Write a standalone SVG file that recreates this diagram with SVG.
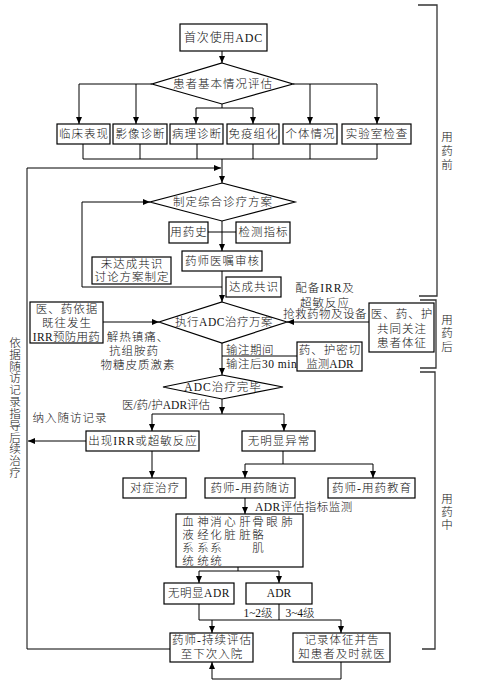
<svg xmlns="http://www.w3.org/2000/svg" width="480" height="686" viewBox="0 0 480 686">
<style>
.b{fill:#fff;stroke:#000;stroke-width:1.2}
.l{fill:none;stroke:#000;stroke-width:1}
.a{fill:none;stroke:#000;stroke-width:1;marker-end:url(#ar)}
.k{fill:none;stroke:#333;stroke-width:1.3}
text{font-family:"Liberation Serif","Noto Sans CJK SC",serif;font-size:11.5px;font-weight:300;fill:#111}
.t{text-anchor:middle;letter-spacing:1px}
.s{text-anchor:start;letter-spacing:0.5px}
.c{text-anchor:middle}
</style>
<defs>
<marker id="ar" viewBox="0 0 8 8" refX="8" refY="4" markerWidth="7" markerHeight="7" markerUnits="userSpaceOnUse" orient="auto">
<path d="M0,0.6 L8,4 L0,7.4 Z" fill="#000"/>
</marker>
</defs>

<g id="connectors">
<path class="a" d="M222,51 V63"/>
<path class="a" d="M152,84 H79 V124"/>
<path class="a" d="M136,84 V124"/>
<path class="a" d="M293,84 H377 V124"/>
<path class="a" d="M310,84 V124"/>
<path class="l" d="M222,104 V108 M196,108 H253"/>
<path class="a" d="M196,108 V124"/>
<path class="a" d="M253,108 V124"/>
<path class="l" d="M83,144 V159 M140,144 V159 M197,144 V159 M253,144 V159 M310,144 V159 M377,144 V159 M83,159 H377"/>
<path class="a" d="M222,159 V183"/>
<path class="a" d="M170,649 H27 V168 H221"/>
<path class="a" d="M222,287 H82 V202 H150"/>
<path class="l" d="M208,232 H236"/>
<path class="a" d="M222,221 V251"/>
<path class="a" d="M222,271 V302"/>
<path class="a" d="M103,322 H159"/>
<path class="a" d="M369,322 H287"/>
<path class="a" d="M222,343 V375"/>
<path class="l" d="M222,356 H297"/>
<path class="a" d="M222,399 V414"/>
<path class="l" d="M152,414 H284"/>
<path class="a" d="M152,414 V431"/>
<path class="a" d="M284,414 V431"/>
<path class="a" d="M86,441 H28"/>
<path class="a" d="M152,451 V478"/>
<path class="l" d="M283,451 V464 M245,464 H373"/>
<path class="a" d="M245,464 V478"/>
<path class="a" d="M373,464 V478"/>
<path class="a" d="M245,498 V514"/>
<path class="l" d="M238,567 V571 M199,571 H279"/>
<path class="a" d="M199,571 V583"/>
<path class="a" d="M279,571 V583"/>
<path class="l" d="M199,604 V620 H341 M279,604 V620"/>
<path class="a" d="M212,620 V633"/>
<path class="a" d="M341,620 V633"/>
<path class="a" d="M341,662 V679 H212 V662"/>
</g>

<g id="brackets">
<path class="k" d="M418,5 H437 V296 H419"/>
<path class="k" d="M420,300 H436 V368 H420"/>
<path class="k" d="M420,372 H435 V649 H422"/>
<text class="c" x="447" y="141">用</text>
<text class="c" x="447" y="155">药</text>
<text class="c" x="447" y="169">前</text>
<text class="c" x="447" y="324">用</text>
<text class="c" x="447" y="337">药</text>
<text class="c" x="447" y="351">后</text>
<text class="c" x="447" y="503">用</text>
<text class="c" x="447" y="516">药</text>
<text class="c" x="447" y="529">中</text>
</g>

<g id="label-left">
<text class="c" x="15" y="347">依</text>
<text class="c" x="15" y="359">据</text>
<text class="c" x="15" y="371">随</text>
<text class="c" x="15" y="382">访</text>
<text class="c" x="15" y="394">记</text>
<text class="c" x="15" y="406">录</text>
<text class="c" x="15" y="418">指</text>
<text class="c" x="15" y="430">导</text>
<text class="c" x="15" y="442">后</text>
<text class="c" x="15" y="453">续</text>
<text class="c" x="15" y="465">治</text>
<text class="c" x="15" y="477">疗</text>
</g>

<g id="edge-labels">
<text class="t" x="325" y="292">配备IRR及</text>
<text class="t" x="325" y="307">超敏反应</text>
<text class="c" x="325" y="318" style="letter-spacing:0.5px">抢救药物及设备</text>
<text class="t" x="138" y="341">解热镇痛、</text>
<text class="t" x="134" y="355">抗组胺药</text>
<text class="t" x="138" y="369">物糖皮质激素</text>
<text class="s" x="226" y="354">输注期间</text>
<text class="s" x="226" y="368">输注后30 min</text>
<text class="c" x="166" y="409">医/药/护ADR评估</text>
<text class="t" x="70" y="422">纳入随访记录</text>
<text class="s" x="255" y="511">ADR评估指标监测</text>
<text class="c" x="258" y="617">1~2级</text>
<text class="c" x="300" y="617">3~4级</text>
</g>

<g id="n-start"><rect class="b" x="180" y="24" width="87" height="27"/><text class="c" x="223.5" y="42" style="font-size:12px;letter-spacing:0.8px">首次使用ADC</text></g>
<g id="n-assess"><polygon class="b" points="222,63 293,84 222,104 152,84"/><text class="t" x="223" y="88">患者基本情况评估</text></g>
<g id="n-clinical"><rect class="b" x="57" y="124" width="53" height="20"/><text class="t" x="84" y="138">临床表现</text></g>
<g id="n-imaging"><rect class="b" x="113" y="124" width="54" height="20"/><text class="t" x="140.5" y="138">影像诊断</text></g>
<g id="n-pathology"><rect class="b" x="170" y="124" width="53" height="20"/><text class="t" x="197" y="138">病理诊断</text></g>
<g id="n-ihc"><rect class="b" x="227" y="124" width="52" height="20"/><text class="t" x="253.5" y="138">免疫组化</text></g>
<g id="n-individual"><rect class="b" x="283" y="124" width="54" height="20"/><text class="t" x="310.5" y="138">个体情况</text></g>
<g id="n-lab"><rect class="b" x="342" y="124" width="69" height="20"/><text class="t" x="377" y="138">实验室检查</text></g>
<g id="n-plan"><polygon class="b" points="222,183 295,202 222,221 150,202"/><text class="t" x="223" y="206">制定综合诊疗方案</text></g>
<g id="n-history"><rect class="b" x="169" y="222" width="39" height="21"/><text class="t" x="189" y="236">用药史</text></g>
<g id="n-indicators"><rect class="b" x="236" y="222" width="54" height="21"/><text class="t" x="263.5" y="236">检测指标</text></g>
<g id="n-review"><rect class="b" x="182" y="251" width="80" height="20"/><text class="t" x="222.5" y="265">药师医嘱审核</text></g>
<g id="n-noconsensus"><rect class="b" x="92" y="257" width="79" height="27"/><text class="t" x="132" y="268">未达成共识</text><text class="t" x="132" y="281">讨论方案制定</text></g>
<g id="n-consensus"><rect class="b" x="226" y="277" width="55" height="20"/><text class="t" x="254" y="291">达成共识</text></g>
<g id="n-execute"><polygon class="b" points="222,302 287,322 222,343 159,322"/><text class="c" x="224" y="326" style="letter-spacing:0.5px">执行ADC治疗万案</text></g>
<g id="n-prevent"><rect class="b" x="30" y="302" width="73" height="41"/><text class="t" x="67" y="313">医、药依据</text><text class="t" x="67" y="327">既往发生</text><text class="c" x="66.5" y="341" style="letter-spacing:0.3px">IRR预防用药</text></g>
<g id="n-watch"><rect class="b" x="369" y="303" width="65" height="49"/><text class="t" x="402" y="318">医、药、护</text><text class="t" x="402" y="333">共同关注</text><text class="t" x="402" y="347">患者体征</text></g>
<g id="n-monitor"><rect class="b" x="297" y="342" width="65" height="29"/><text class="t" x="330" y="354">药、护密切</text><text class="c" x="330" y="368">监测ADR</text></g>
<g id="n-done"><polygon class="b" points="222,375 283,387 222,399 163,387"/><text class="t" x="223" y="391">ADC治疗完毕</text></g>
<g id="n-irr"><rect class="b" x="86" y="431" width="113" height="20"/><text class="t" x="143" y="445">出现IRR或超敏反应</text></g>
<g id="n-normal"><rect class="b" x="242" y="431" width="73" height="20"/><text class="t" x="279" y="445">无明显异常</text></g>
<g id="n-symptom"><rect class="b" x="123" y="478" width="63" height="20"/><text class="t" x="155" y="492">对症治疗</text></g>
<g id="n-followup"><rect class="b" x="205" y="478" width="90" height="20"/><text class="t" x="250.5" y="492">药师-用药随访</text></g>
<g id="n-education"><rect class="b" x="328" y="478" width="87" height="20"/><text class="t" x="372" y="492">药师-用药教育</text></g>
<g id="n-systems"><rect class="b" x="176" y="514" width="127" height="53"/>
<text class="c" x="188" y="526">血</text><text class="c" x="203" y="526">神</text><text class="c" x="216" y="526">消</text><text class="c" x="230" y="526">心</text><text class="c" x="245" y="526">肝</text><text class="c" x="258" y="526">骨</text><text class="c" x="272" y="526">眼</text><text class="c" x="287" y="526">肺</text>
<text class="c" x="188" y="539">液</text><text class="c" x="203" y="539">经</text><text class="c" x="216" y="539">化</text><text class="c" x="230" y="539">脏</text><text class="c" x="245" y="539">脏</text><text class="c" x="258" y="539">骼</text>
<text class="c" x="188" y="552">系</text><text class="c" x="203" y="552">系</text><text class="c" x="216" y="552">系</text><text class="c" x="258" y="552">肌</text>
<text class="c" x="188" y="565">统</text><text class="c" x="203" y="565">统</text><text class="c" x="216" y="565">统</text>
</g>
<g id="n-noadr"><rect class="b" x="164" y="583" width="70" height="21"/><text class="c" x="199" y="597" style="letter-spacing:0.5px">无明显ADR</text></g>
<g id="n-adr"><rect class="b" x="246" y="583" width="66" height="21"/><text class="c" x="279" y="597">ADR</text></g>
<g id="n-continue"><rect class="b" x="170" y="633" width="83" height="29"/><text class="t" x="212" y="644">药师-持续评估</text><text class="t" x="212" y="658">至下次入院</text></g>
<g id="n-record"><rect class="b" x="293" y="633" width="97" height="29"/><text class="t" x="342" y="644">记录体征并告</text><text class="t" x="342" y="658">知患者及时就医</text></g>
</svg>
